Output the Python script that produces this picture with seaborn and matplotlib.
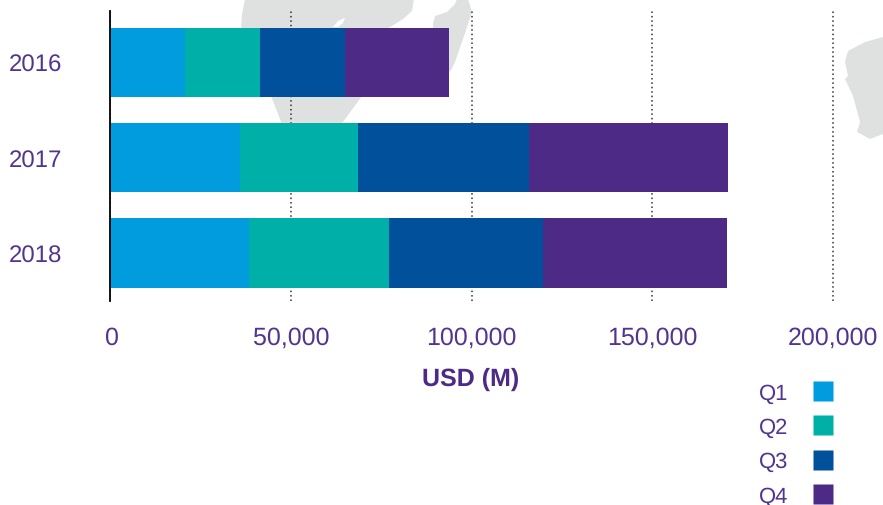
import pandas as pd
import matplotlib
matplotlib.use("Agg")
import matplotlib.pyplot as plt
from matplotlib.lines import Line2D
from matplotlib.patches import Polygon
from matplotlib.ticker import FuncFormatter
import seaborn as sns

years = ['2016', '2017', '2018']
quarters = ['Q1', 'Q2', 'Q3', 'Q4']
q1 = [20600, 35900, 38400]
q2 = [20800, 32700, 38700]
q3 = [23600, 47300, 42700]
q4 = [28800, 55100, 51000]
colors = ['#009cde', '#00b0a8', '#00509b', '#4c2a85']
xticks = [0, 50000, 100000, 150000, 200000]

text_color = '#53358f'

# grey map behind the chart, outlines in image pixels
africa = [(245, 0), (242, 15), (241, 30), (271, 97), (280, 120), (290, 150), (325, 150), (343, 123),
          (362, 97), (387, 30), (403, 20), (412, 12), (414, 0)]
africa_gap = [(333, 28), (338, 22), (345, 19), (343, 24), (338, 28)]
madagascar = [(457, 0), (468, 0), (472, 13), (463, 40), (455, 63), (450, 73), (433, 35), (433, 25),
              (435, 17), (447, 13), (455, 5)]
australia = [(883, 38), (865, 43), (848, 52), (845, 63), (848, 77), (845, 80), (853, 97), (860, 123),
             (857, 133), (870, 140), (883, 135)]

df = pd.DataFrame({'year': years, 'Q1': q1, 'Q2': q2, 'Q3': q3, 'Q4': q4})
stacked = df[quarters].cumsum(axis=1)
stacked['year'] = df['year']

W, H = 883, 506
sns.set_style("white")
plt.rcParams['font.family'] = ['Liberation Sans', 'DejaVu Sans']
plt.rcParams['text.hinting'] = 'no_hinting'
plt.rcParams['text.hinting_factor'] = 1
fig = plt.figure(figsize=(W / 100, H / 100), dpi=100)

for shape, col in [(africa, '#dfe1e1'), (africa_gap, 'white'), (madagascar, '#dfe1e1'), (australia, '#dfe1e1')]:
    pts = [(x / W, 1 - y / H) for x, y in shape]
    fig.add_artist(Polygon(pts, closed=True, facecolor=col, edgecolor='none', transform=fig.transFigure, zorder=0))

ax = fig.add_axes([110.5 / W, 1 - 302 / H, (W - 110.5) / W, 290 / H])
ax.patch.set_alpha(0)
ax.set_zorder(2)

# longest bar first so the shorter ones sit on top of it
for q, col in reversed(list(zip(quarters, colors))):
    sns.barplot(data=stacked, x=q, y='year', orient='h', color=col, saturation=1, width=0.73, linewidth=0, ax=ax)

ax.set_xlim(0, (W - 110.5) / 3.61 * 1000)
ax.set_ylim(2.505, -0.54)
ax.set_xticks(xticks)
ax.xaxis.set_major_formatter(FuncFormatter(lambda v, p: f"{int(v):,}"))
ax.set_axisbelow(True)
ax.grid(axis='x', color='#333333', linewidth=1.1, linestyle=(0, (1, 1.9)))
ax.grid(axis='y', visible=False)
sns.despine(ax=ax, top=True, right=True, bottom=True, left=False)
ax.spines['left'].set_color('black')
ax.spines['left'].set_linewidth(1.3)
ax.tick_params(axis='both', length=0, labelcolor=text_color)
ax.tick_params(axis='x', pad=18, labelsize=18)
ax.tick_params(axis='y', pad=73, labelsize=17)
for lab in ax.get_yticklabels():
    lab.set_ha('left')
ax.set_ylabel('')
ax.set_xlabel('USD (M)', fontsize=18, fontweight='bold', color='#4c2a85')
ax.xaxis.set_label_coords((471 - 110.5) / (W - 110.5), 1 - (379 - 12) / 290, transform=ax.transAxes)
ax.xaxis.label.set_va('center')
for t in ax.get_xticklabels():
    t.set_clip_on(False)

handles = [Line2D([], [], marker='s', linestyle='none', markersize=13.7, markerfacecolor=c,
                  markeredgecolor='none') for c in colors]
leg = ax.legend(handles, quarters, loc='center left', markerfirst=False, frameon=False, fontsize=16,
                labelcolor=text_color, labelspacing=0.62, handletextpad=0.82, handlelength=1.49, borderpad=0,
                borderaxespad=0, bbox_to_anchor=(759 / W, 1 - 445.5 / H), bbox_transform=fig.transFigure)

fig.savefig('out.png', dpi=100)
